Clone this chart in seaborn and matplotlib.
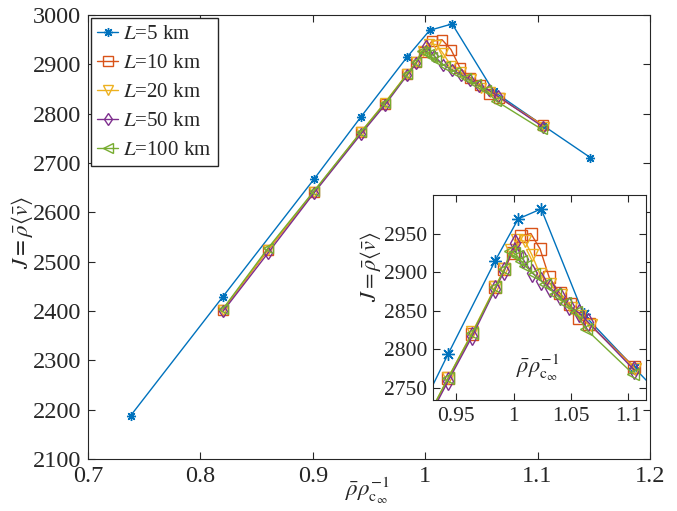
import pandas as pd
import seaborn as sns
from matplotlib import pyplot as plt

# values
x5 = [0.738, 0.820, 0.901, 0.943, 0.984, 1.004, 1.024, 1.061, 1.105, 1.147]
J5 = [2188, 2429, 2667, 2794, 2915, 2969, 2982, 2845, 2776, 2711]

x10 = [0.820, 0.860, 0.901, 0.943, 0.964, 0.984, 0.992, 0.999, 1.006, 1.015, 1.023, 1.031,
       1.040, 1.049, 1.057, 1.066, 1.105]
J10 = [2402, 2523, 2641, 2762, 2820, 2880, 2904, 2925, 2947, 2950, 2930, 2893,
       2873, 2858, 2840, 2832, 2777]

x20 = [0.820, 0.860, 0.901, 0.943, 0.964, 0.984, 0.992, 0.998, 1.003, 1.010, 1.016, 1.023,
       1.032, 1.041, 1.050, 1.058, 1.067, 1.106]
J20 = [2403, 2524, 2642, 2763, 2822, 2881, 2904, 2928, 2942, 2940, 2922, 2897,
       2884, 2870, 2853, 2843, 2831, 2774]

x50 = [0.820, 0.860, 0.901, 0.943, 0.964, 0.984, 0.992, 1.001, 1.008, 1.016, 1.024, 1.032,
       1.040, 1.048, 1.057, 1.065, 1.105]
J50 = [2399, 2517, 2639, 2759, 2817, 2878, 2902, 2938, 2917, 2899, 2889, 2879,
       2869, 2856, 2847, 2835, 2773]

x100 = [0.820, 0.860, 0.901, 0.943, 0.964, 0.984, 0.992, 0.997, 1.000, 1.003, 1.006, 1.010,
        1.018, 1.027, 1.036, 1.045, 1.054, 1.063, 1.104]
J100 = [2404, 2527, 2643, 2763, 2821, 2880, 2904, 2927, 2925, 2921, 2915, 2908,
        2897, 2884, 2872, 2860, 2848, 2826, 2768]

L_values = [5, 10, 20, 50, 100]
xs = [x5, x10, x20, x50, x100]
Js = [J5, J10, J20, J50, J100]

main_xticks = [0.7, 0.8, 0.9, 1.0, 1.1, 1.2]
main_xticklabels = ["0.7", "0.8", "0.9", "1", "1.1", "1.2"]
main_yticks = list(range(2100, 3001, 100))
inset_xticks = [0.95, 1.0, 1.05, 1.1]
inset_xticklabels = ["0.95", "1", "1.05", "1.1"]
inset_yticks = [2750, 2800, 2850, 2900, 2950]

colors = ["#0072BD", "#D95319", "#EDB120", "#7E2F8E", "#77AC30"]
markers = [(8, 2, 0), "s", "v", "d", "<"]

sns.set_style("ticks")
plt.rcParams["font.family"] = ["Liberation Serif", "DejaVu Serif"]
plt.rcParams["mathtext.fontset"] = "stix"
plt.rcParams["text.color"] = "#262626"
plt.rcParams["axes.labelcolor"] = "#262626"
plt.rcParams["xtick.color"] = "#262626"
plt.rcParams["ytick.color"] = "#262626"

frames = []
for L, x, J in zip(L_values, xs, Js):
    frames.append(pd.DataFrame({"rho": x, "J": J, "L": L}))
data = pd.concat(frames, ignore_index=True)

fig = plt.figure(figsize=(6.77, 5.11), dpi=100)
ax = fig.add_axes([0.130, 0.1018, 0.830, 0.8688])
ax_in = fig.add_axes([0.6396, 0.2172, 0.3140, 0.4012])


def draw(axis, msize, with_label):
    for i, L in enumerate(L_values):
        sub = data[data["L"] == L]
        sns.lineplot(sub, x="rho", y="J", ax=axis, sort=False, estimator=None,
                     color=colors[i], marker=markers[i], markersize=msize,
                     markerfacecolor="none", markeredgecolor=colors[i],
                     markeredgewidth=1.0, linewidth=1.0,
                     label=(f"$L$=" + f"{L} km") if with_label else None,
                     legend=False)


def style(axis, size):
    for s in axis.spines.values():
        s.set_color("#262626")
        s.set_linewidth(0.8)
    axis.tick_params(direction="in", top=True, right=True, labelsize=size,
                     length=5, width=0.8, color="#262626", pad=5)


draw(ax, 6.5, True)
ax.set_xlim(0.7, 1.2)
ax.set_ylim(2100, 3000)
ax.set_xticks(main_xticks, main_xticklabels)
ax.set_yticks(main_yticks)
style(ax, 17.5)
ax.set_xlabel(r"$\bar{\rho}\rho_{\mathrm{c}_\infty}^{-1}$", fontsize=16.5)
ax.set_ylabel(r"$J=\bar{\rho}\langle\bar{v}\rangle$", fontsize=16.5)
ax.xaxis.set_label_coords(0.497, -0.036)
ax.yaxis.set_label_coords(-0.094, 0.51)
ax.legend(loc="upper left", fontsize=15, frameon=True, fancybox=False,
          edgecolor="#262626", framealpha=1, handlelength=1.0, handletextpad=0.25,
          borderaxespad=0.15, labelspacing=0.45, borderpad=0.3)

draw(ax_in, 9, False)
ax_in.set_xlim(0.9297, 1.115)
ax_in.set_ylim(2734, 3000)
ax_in.set_xticks(inset_xticks, inset_xticklabels)
ax_in.set_yticks(inset_yticks)
style(ax_in, 15.5)
ax_in.tick_params(axis="y", pad=4)
ax_in.set_xlabel("")
ax_in.set_ylabel(r"$J=\bar{\rho}\langle\bar{v}\rangle$", fontsize=16)
ax_in.yaxis.set_label_coords(-0.235, 0.65)
ax_in.text(0.494, 0.16, r"$\bar{\rho}\rho_{\mathrm{c}_\infty}^{-1}$", transform=ax_in.transAxes,
           ha="center", va="center", fontsize=16)

plt.savefig("out.png", dpi=100)
